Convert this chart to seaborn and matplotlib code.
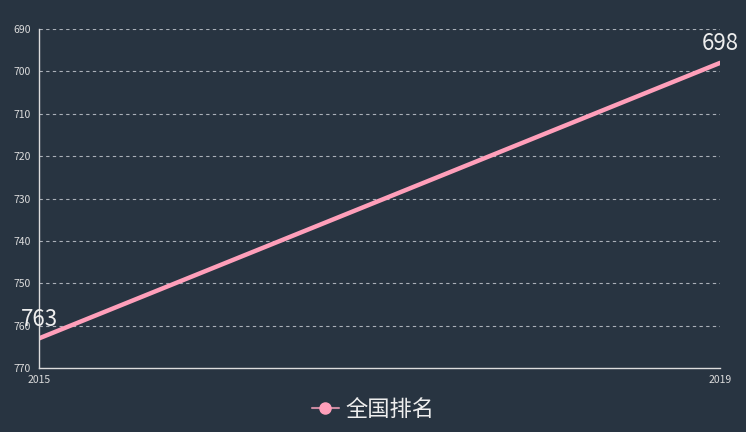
import matplotlib
matplotlib.use("Agg")
import matplotlib.pyplot as plt
from matplotlib.lines import Line2D
import pandas as pd
import seaborn as sns

years = [2015, 2019]
ranks = [763, 698]
series_name = "全国排名"

bg = "#283441"
fg = "#dcdcdc"
pink = "#ff9fba"

sns.set_style("dark")
plt.rcParams["font.family"] = ["Noto Sans CJK SC", "DejaVu Sans"]

df = pd.DataFrame({"year": years, "rank": ranks})

fig = plt.figure(figsize=(7.46, 4.32), dpi=100, facecolor=bg)
ax = fig.add_axes([0.0523, 0.148, 0.913, 0.785])
ax.set_facecolor(bg)

sns.lineplot(data=df, x="year", y="rank", color=pink, linewidth=3.2, ax=ax,
             legend=False, solid_capstyle="round")

for x, y in zip(years, ranks):
    ax.text(x, y - 1.8, str(y), color="#eeeeee", fontsize=16, ha="center", va="bottom")

ax.set_xlim(years[0], years[-1])
ax.set_ylim(770, 690)
ax.set_yticks(range(690, 771, 10))
ax.set_xticks(years)
ax.set_xlabel("")
ax.set_ylabel("")
ax.tick_params(axis="both", colors=fg, labelsize=7.5, length=4, width=0.8, pad=1)
ax.tick_params(axis="y", pad=2)

ax.grid(False)
for v in range(690, 770, 10):
    ax.axhline(v, color="#aab0b8", linestyle=(0, (3, 3)), linewidth=0.8, zorder=0)

for side in ["top", "right"]:
    ax.spines[side].set_visible(False)
for side in ["left", "bottom"]:
    ax.spines[side].set_color(fg)
    ax.spines[side].set_linewidth(1)

handle = Line2D([0], [0], color="#c98aa0", linewidth=1.5, marker="o",
                markersize=8, markerfacecolor=pink, markeredgecolor=pink)
fig.legend([handle], [series_name], loc="lower center", bbox_to_anchor=(0.5, -0.02),
           frameon=False, fontsize=16, labelcolor="#eeeeee", handlelength=1.2,
           handletextpad=0.3)

fig.savefig("out.png", dpi=100, facecolor=bg)
